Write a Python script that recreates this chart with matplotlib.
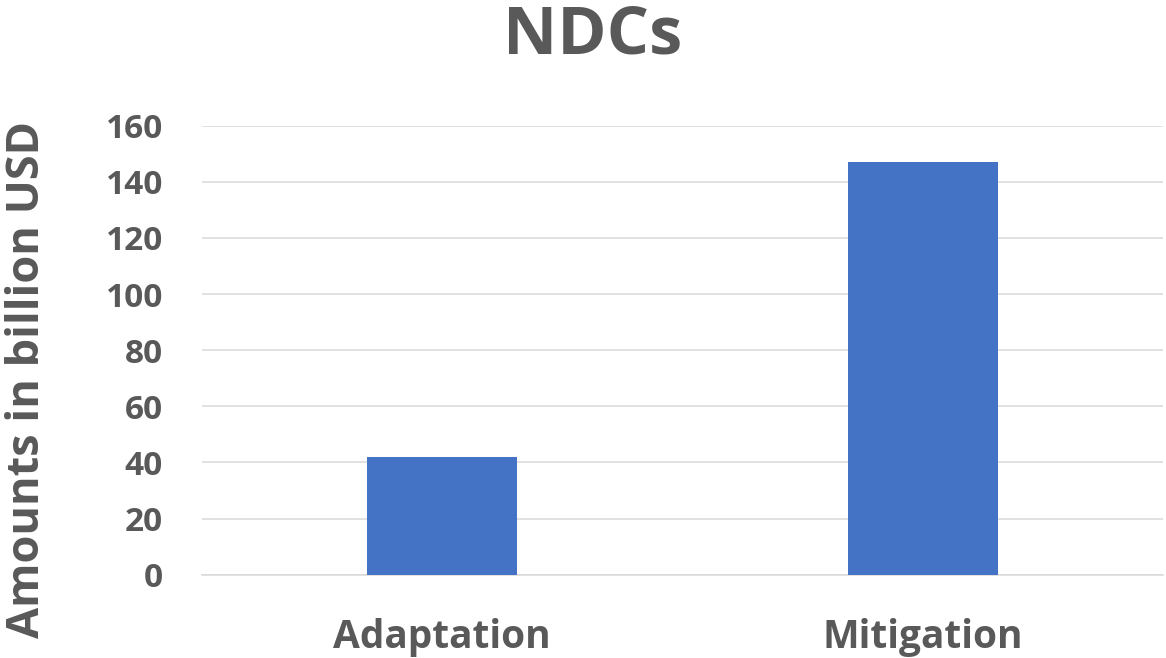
import matplotlib
matplotlib.use("Agg")
import matplotlib.pyplot as plt

categories = ["Adaptation", "Mitigation"]
values = [41.8, 147.0]
yticks = [0, 20, 40, 60, 80, 100, 120, 140, 160]

TXT = "#595959"
FONT = ["Open Sans", "DejaVu Sans"]

fig = plt.figure(figsize=(11.66, 6.58), dpi=100)
ax = fig.add_axes([202/1166, 1-574.7/658, (1163-202)/1166, (574.7-125.7)/658])

x = list(range(len(categories)))
ax.bar(x, values, width=0.313, color="#4472C4", zorder=3)
ax.set_xlim(-0.5, len(categories) - 0.5)
ax.set_ylim(0, 160)
ax.set_yticks(yticks)
ax.set_yticklabels([str(t) for t in yticks], fontsize=24, fontweight="bold", color=TXT, family=FONT)
ax.set_xticks(x)
ax.set_xticklabels(categories, fontsize=28, fontweight="bold", color=TXT, family=FONT)
ax.tick_params(axis="y", length=0, pad=28)
ax.tick_params(axis="x", length=0, pad=31)
ax.grid(axis="y", color="#D9D9D9", linewidth=1.1, zorder=0)
for s in ["top", "right", "left"]:
    ax.spines[s].set_visible(False)
ax.spines["bottom"].set_color("#D9D9D9")
ax.spines["bottom"].set_linewidth(1.1)

fig.text(593/1166, 1-36/658, "NDCs", ha="center", va="center", fontsize=48,
         fontweight="bold", color=TXT, family=FONT)
fig.text(28/1166, 1-379/658, "Amounts in billion USD", ha="center", va="center",
         rotation=90, fontsize=32.5, fontweight="bold", color=TXT, family=FONT)

fig.savefig("out.png", dpi=100)
